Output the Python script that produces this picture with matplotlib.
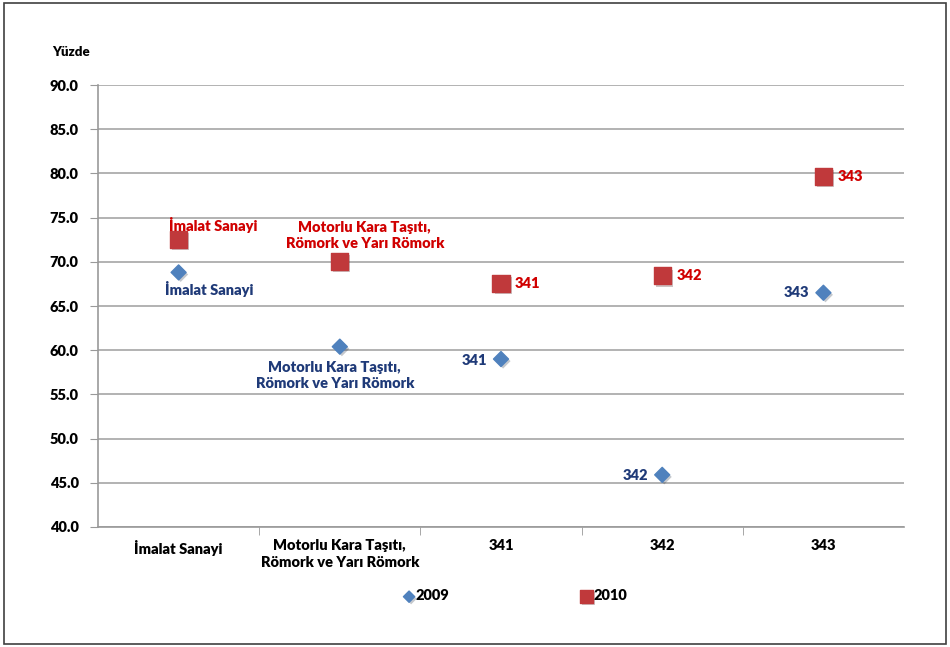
import matplotlib
matplotlib.use("Agg")
import matplotlib.pyplot as plt
from matplotlib.patches import Rectangle
import matplotlib.patheffects as pe

plt.rcParams['font.family'] = ['Lato', 'DejaVu Sans']
W = 'heavy'
plt.rcParams['font.weight'] = W

categories = ["İmalat Sanayi", "Motorlu Kara Taşıtı,\nRömork ve Yarı Römork", "341", "342", "343"]
v2009 = [68.8, 60.4, 59.0, 45.9, 66.5]
v2010 = [72.5, 70.0, 67.6, 68.4, 79.7]
lab2009 = ["İmalat Sanayi", "Motorlu Kara Taşıtı,\nRömork ve Yarı Römork", "341", "342", "343"]
lab2010 = ["İmalat Sanayi", "Motorlu Kara Taşıtı,\nRömork ve Yarı Römork", "341", "342", "343"]
yticks = [40.0, 45.0, 50.0, 55.0, 60.0, 65.0, 70.0, 75.0, 80.0, 85.0, 90.0]

blue = "#4F81BD"
red = "#C0393B"
navy = "#1F3A78"
lred = "#D00000"

fig = plt.figure(figsize=(9.5, 6.47), dpi=100)
ax = fig.add_axes([98/950, 1-527/647, 806/950, 442/647])

x = list(range(len(categories)))
shadow = [pe.SimplePatchShadow(offset=(1.5, -1.5), alpha=0.25), pe.Normal()]
h1 = ax.scatter(x, v2009, marker='D', s=58, color=blue, edgecolors=blue, zorder=3,
                path_effects=shadow, label="2009")
h2 = ax.scatter(x, v2010, marker='s', s=150, color=red, edgecolors=red, zorder=3,
                path_effects=shadow, label="2010")

ax.set_xlim(-0.5, len(categories) - 0.5)
ax.set_ylim(40, 90)
ax.set_yticks(yticks)
ax.set_yticklabels([f"{t:.1f}" for t in yticks], fontsize=10.5, fontweight=W)
ax.set_xticks(x)
ax.set_xticklabels(categories, fontsize=10.5, fontweight=W, linespacing=1.35)
ax.set_xticks([i + 0.5 for i in x[:-1]], minor=True)
ax.tick_params(axis='x', which='major', length=0, pad=9)
ax.tick_params(axis='x', which='minor', length=6, color='#999999')
ax.tick_params(axis='y', length=6, color='#999999', pad=8)
ax.grid(axis='y', color='#A6A6A6', linewidth=1.2)
ax.set_axisbelow(True)
for s in ['top', 'right']:
    ax.spines[s].set_visible(False)
for s in ['left', 'bottom']:
    ax.spines[s].set_color('#999999')
    ax.spines[s].set_linewidth(1.2)

off2009 = [(31, -17, 'center'), (-5, -29, 'center'), (-14, -1, 'right'), (-14, -1, 'right'), (-14, 0, 'right')]
for xi, yi, t, (dx, dy, ha) in zip(x, v2009, lab2009, off2009):
    ax.annotate(t, (xi, yi), xytext=(dx, dy), textcoords='offset pixels', ha=ha, va='center',
                color=navy, fontsize=10.5, fontweight=W, linespacing=1.3)
off2010 = [(35, 15, 'center'), (25, 26, 'center'), (14, 0, 'left'), (14, 0, 'left'), (14, 0, 'left')]
for xi, yi, t, (dx, dy, ha) in zip(x, v2010, lab2010, off2010):
    ax.annotate(t, (xi, yi), xytext=(dx, dy), textcoords='offset pixels', ha=ha, va='center',
                color=lred, fontsize=10.5, fontweight=W, linespacing=1.3)

fig.text(52/950, 1-52/647, "Yüzde", fontsize=9.5, fontweight=W, va='center', ha='left')

leg = fig.legend(handles=[h1, h2], loc='center', bbox_to_anchor=(515/950, 1-596/647), ncol=2,
                 frameon=False, fontsize=10.5, handletextpad=0.05, columnspacing=9,
                 markerscale=0.75, handlelength=0.8)
for t in leg.get_texts():
    t.set_fontweight(W)

fig.patches.append(Rectangle((4/950, 3/647), 942/950, 641/647, transform=fig.transFigure,
                             fill=False, edgecolor='#404040', linewidth=1.2))

fig.savefig("out.png", dpi=100)
